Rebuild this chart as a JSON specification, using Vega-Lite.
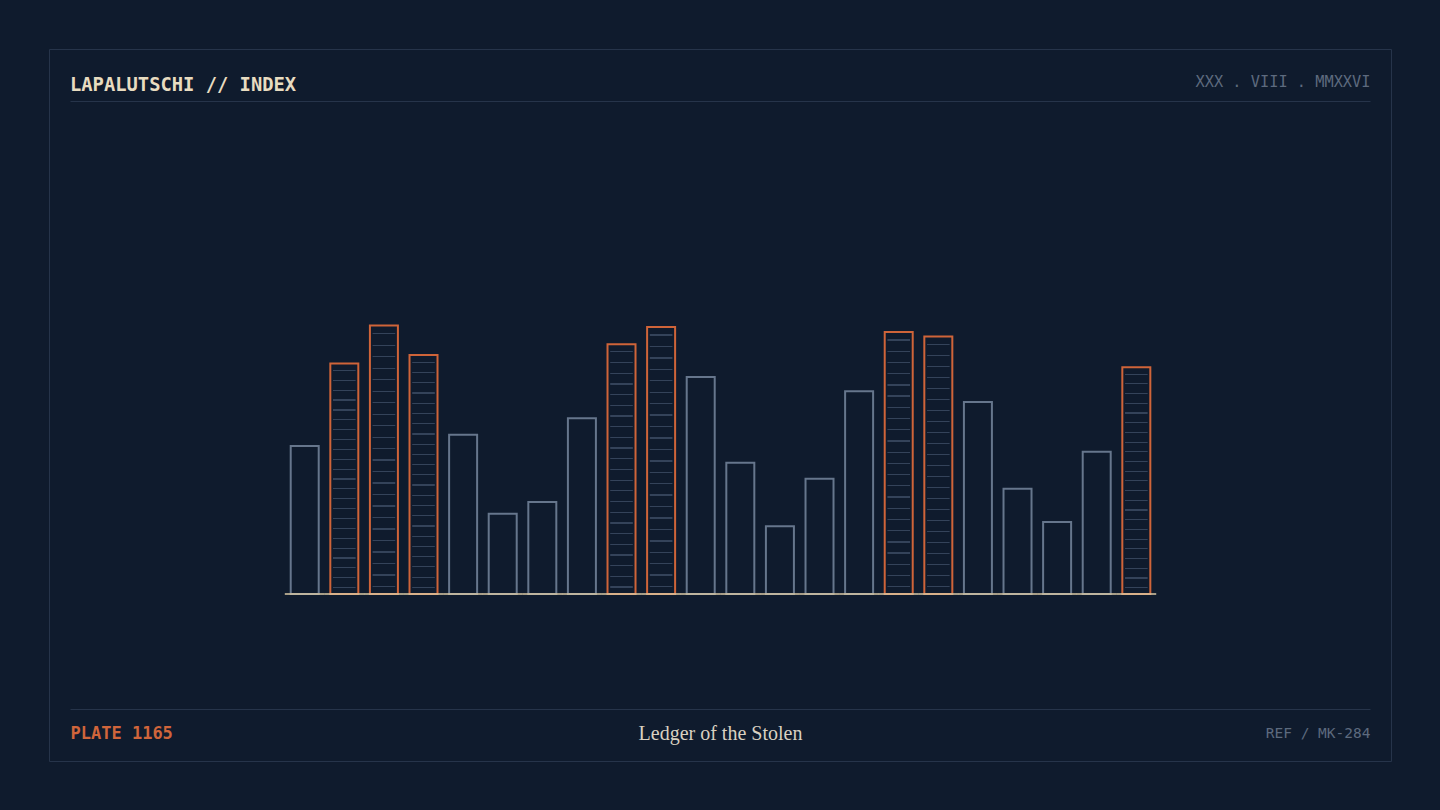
{
  "$schema": "https://vega.github.io/schema/vega-lite/v6.json",
  "width": 1342,
  "height": 712,
  "autosize": {"type": "none"},
  "padding": 49,
  "background": "#0f1b2d",
  "config": {
    "view": {"stroke": "#26344a", "strokeWidth": 1}
  },
  "title": {
    "text": "LAPALUTSCHI // INDEX",
    "anchor": "start",
    "frame": "group",
    "orient": "top",
    "offset": -61,
    "dx": 21,
    "baseline": "alphabetic",
    "font": "DejaVu Sans Mono",
    "fontSize": 18.8,
    "fontWeight": "bold",
    "color": "#e8dcc0"
  },
  "data": {
    "values": [
      {"i": 1, "v": 54.8},
      {"i": 2, "v": 85.4},
      {"i": 3, "v": 99.4},
      {"i": 4, "v": 88.5},
      {"i": 5, "v": 59.0},
      {"i": 6, "v": 29.7},
      {"i": 7, "v": 34.1},
      {"i": 8, "v": 65.1},
      {"i": 9, "v": 92.5},
      {"i": 10, "v": 98.9},
      {"i": 11, "v": 80.4},
      {"i": 12, "v": 48.6},
      {"i": 13, "v": 25.1},
      {"i": 14, "v": 42.7},
      {"i": 15, "v": 75.1},
      {"i": 16, "v": 97.0},
      {"i": 17, "v": 95.4},
      {"i": 18, "v": 71.1},
      {"i": 19, "v": 39.0},
      {"i": 20, "v": 26.7},
      {"i": 21, "v": 52.7},
      {"i": 22, "v": 84.0}
    ]
  },
  "resolve": {"axis": {"x": "independent", "y": "independent"}},
  "layer": [
    {
      "mark": {"type": "bar", "orient": "vertical", "width": 28, "fill": "transparent", "strokeWidth": 2},
      "encoding": {
        "x": {
          "field": "i",
          "type": "quantitative",
          "scale": {"domain": [-4.927, 27.901], "range": [21, 1321], "nice": false, "zero": false, "padding": 0},
          "axis": {
            "orient": "top",
            "offset": -52,
            "domain": true,
            "domainColor": "#26344a",
            "domainWidth": 1,
            "ticks": false,
            "labels": false,
            "grid": false,
            "title": "XXX . VIII . MMXXVI",
            "titleX": 1321,
            "titleY": -14.5,
            "titleAlign": "right",
            "titleBaseline": "alphabetic",
            "titleFont": "DejaVu Sans Mono",
            "titleFontSize": 15.3,
            "titleFontWeight": "normal",
            "titleColor": "#5d6a7e"
          }
        },
        "y": {
          "field": "v",
          "type": "quantitative",
          "scale": {"domain": [-61.85, 201.85], "nice": false, "zero": false, "padding": 0},
          "axis": {
            "orient": "left",
            "domain": false,
            "ticks": false,
            "labels": false,
            "grid": false,
            "title": "PLATE 1165",
            "titleAngle": 0,
            "titleX": 21,
            "titleY": 689,
            "titleAlign": "left",
            "titleBaseline": "alphabetic",
            "titleFont": "DejaVu Sans Mono",
            "titleFontSize": 17,
            "titleFontWeight": "bold",
            "titleColor": "#d0653b"
          }
        },
        "y2": {"datum": 0},
        "stroke": {
          "condition": {"test": "datum.v > 82", "value": "#cf6439"},
          "value": "#66768c"
        }
      }
    },
    {
      "transform": [{"filter": "datum.v > 82"}],
      "mark": {
        "type": "bar",
        "orient": "vertical",
        "width": 22.6,
        "strokeWidth": 0,
        "fill": {
          "gradient": "linear",
          "x1": 0, "y1": 0, "x2": 0, "y2": 1,
          "stops": [
            {"offset": 0, "color": "rgba(15,27,45,0)"},
            {"offset": 0.028, "color": "rgba(15,27,45,0)"}, {"offset": 0.028, "color": "#34435a"}, {"offset": 0.033, "color": "#34435a"}, {"offset": 0.033, "color": "rgba(15,27,45,0)"},
            {"offset": 0.0708, "color": "rgba(15,27,45,0)"}, {"offset": 0.0708, "color": "#34435a"}, {"offset": 0.0758, "color": "#34435a"}, {"offset": 0.0758, "color": "rgba(15,27,45,0)"},
            {"offset": 0.1136, "color": "rgba(15,27,45,0)"}, {"offset": 0.1136, "color": "#34435a"}, {"offset": 0.1186, "color": "#34435a"}, {"offset": 0.1186, "color": "rgba(15,27,45,0)"},
            {"offset": 0.1564, "color": "rgba(15,27,45,0)"}, {"offset": 0.1564, "color": "#34435a"}, {"offset": 0.1614, "color": "#34435a"}, {"offset": 0.1614, "color": "rgba(15,27,45,0)"},
            {"offset": 0.1992, "color": "rgba(15,27,45,0)"}, {"offset": 0.1992, "color": "#34435a"}, {"offset": 0.2042, "color": "#34435a"}, {"offset": 0.2042, "color": "rgba(15,27,45,0)"},
            {"offset": 0.242, "color": "rgba(15,27,45,0)"}, {"offset": 0.242, "color": "#34435a"}, {"offset": 0.247, "color": "#34435a"}, {"offset": 0.247, "color": "rgba(15,27,45,0)"},
            {"offset": 0.2848, "color": "rgba(15,27,45,0)"}, {"offset": 0.2848, "color": "#34435a"}, {"offset": 0.2898, "color": "#34435a"}, {"offset": 0.2898, "color": "rgba(15,27,45,0)"},
            {"offset": 0.3276, "color": "rgba(15,27,45,0)"}, {"offset": 0.3276, "color": "#34435a"}, {"offset": 0.3326, "color": "#34435a"}, {"offset": 0.3326, "color": "rgba(15,27,45,0)"},
            {"offset": 0.3704, "color": "rgba(15,27,45,0)"}, {"offset": 0.3704, "color": "#34435a"}, {"offset": 0.3754, "color": "#34435a"}, {"offset": 0.3754, "color": "rgba(15,27,45,0)"},
            {"offset": 0.4132, "color": "rgba(15,27,45,0)"}, {"offset": 0.4132, "color": "#34435a"}, {"offset": 0.4182, "color": "#34435a"}, {"offset": 0.4182, "color": "rgba(15,27,45,0)"},
            {"offset": 0.456, "color": "rgba(15,27,45,0)"}, {"offset": 0.456, "color": "#34435a"}, {"offset": 0.461, "color": "#34435a"}, {"offset": 0.461, "color": "rgba(15,27,45,0)"},
            {"offset": 0.4988, "color": "rgba(15,27,45,0)"}, {"offset": 0.4988, "color": "#34435a"}, {"offset": 0.5038, "color": "#34435a"}, {"offset": 0.5038, "color": "rgba(15,27,45,0)"},
            {"offset": 0.5416, "color": "rgba(15,27,45,0)"}, {"offset": 0.5416, "color": "#34435a"}, {"offset": 0.5466, "color": "#34435a"}, {"offset": 0.5466, "color": "rgba(15,27,45,0)"},
            {"offset": 0.5844, "color": "rgba(15,27,45,0)"}, {"offset": 0.5844, "color": "#34435a"}, {"offset": 0.5894, "color": "#34435a"}, {"offset": 0.5894, "color": "rgba(15,27,45,0)"},
            {"offset": 0.6272, "color": "rgba(15,27,45,0)"}, {"offset": 0.6272, "color": "#34435a"}, {"offset": 0.6322, "color": "#34435a"}, {"offset": 0.6322, "color": "rgba(15,27,45,0)"},
            {"offset": 0.67, "color": "rgba(15,27,45,0)"}, {"offset": 0.67, "color": "#34435a"}, {"offset": 0.675, "color": "#34435a"}, {"offset": 0.675, "color": "rgba(15,27,45,0)"},
            {"offset": 0.7128, "color": "rgba(15,27,45,0)"}, {"offset": 0.7128, "color": "#34435a"}, {"offset": 0.7178, "color": "#34435a"}, {"offset": 0.7178, "color": "rgba(15,27,45,0)"},
            {"offset": 0.7556, "color": "rgba(15,27,45,0)"}, {"offset": 0.7556, "color": "#34435a"}, {"offset": 0.7606, "color": "#34435a"}, {"offset": 0.7606, "color": "rgba(15,27,45,0)"},
            {"offset": 0.7984, "color": "rgba(15,27,45,0)"}, {"offset": 0.7984, "color": "#34435a"}, {"offset": 0.8034, "color": "#34435a"}, {"offset": 0.8034, "color": "rgba(15,27,45,0)"},
            {"offset": 0.8412, "color": "rgba(15,27,45,0)"}, {"offset": 0.8412, "color": "#34435a"}, {"offset": 0.8462, "color": "#34435a"}, {"offset": 0.8462, "color": "rgba(15,27,45,0)"},
            {"offset": 0.884, "color": "rgba(15,27,45,0)"}, {"offset": 0.884, "color": "#34435a"}, {"offset": 0.889, "color": "#34435a"}, {"offset": 0.889, "color": "rgba(15,27,45,0)"},
            {"offset": 0.9268, "color": "rgba(15,27,45,0)"}, {"offset": 0.9268, "color": "#34435a"}, {"offset": 0.9318, "color": "#34435a"}, {"offset": 0.9318, "color": "rgba(15,27,45,0)"},
            {"offset": 0.9696, "color": "rgba(15,27,45,0)"}, {"offset": 0.9696, "color": "#34435a"}, {"offset": 0.9746, "color": "#34435a"}, {"offset": 0.9746, "color": "rgba(15,27,45,0)"},
            {"offset": 1, "color": "rgba(15,27,45,0)"}
          ]
        }
      },
      "encoding": {
        "x": {
          "field": "i",
          "type": "quantitative",
          "axis": {
            "orient": "bottom",
            "offset": -52,
            "domain": true,
            "domainColor": "#26344a",
            "domainWidth": 1,
            "ticks": false,
            "labels": false,
            "grid": false,
            "title": "Ledger of the Stolen",
            "titleX": 671,
            "titleY": 30,
            "titleAlign": "center",
            "titleBaseline": "alphabetic",
            "titleFont": "Liberation Serif",
            "titleFontSize": 20,
            "titleFontWeight": "normal",
            "titleColor": "#d9d1c1"
          }
        },
        "y": {
          "field": "v",
          "type": "quantitative",
          "axis": {
            "orient": "right",
            "domain": false,
            "ticks": false,
            "labels": false,
            "grid": false,
            "title": "REF / MK-284",
            "titleAngle": 0,
            "titleX": -21,
            "titleY": 688,
            "titleAlign": "right",
            "titleBaseline": "alphabetic",
            "titleFont": "DejaVu Sans Mono",
            "titleFontSize": 14.5,
            "titleFontWeight": "normal",
            "titleColor": "#5d6a7e"
          }
        },
        "y2": {"datum": 0}
      }
    },
    {
      "mark": {"type": "tick", "orient": "horizontal", "size": 39.8, "thickness": 1.5, "color": "#dccba6", "opacity": 1},
      "encoding": {
        "x": {"field": "i", "type": "quantitative", "axis": null},
        "y": {"datum": 0, "type": "quantitative", "axis": null}
      }
    }
  ]
}
